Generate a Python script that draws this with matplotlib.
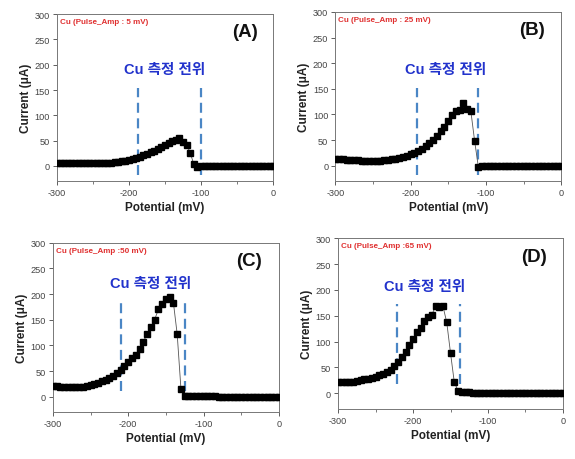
import matplotlib
matplotlib.use("Agg")
import matplotlib.pyplot as plt
from matplotlib.ticker import MultipleLocator

plt.rcParams['font.family'] = ['Liberation Sans', 'Noto Sans CJK KR', 'DejaVu Sans']
plt.rcParams['axes.unicode_minus'] = False

# potential grid (mV), 5 mV step
potential = list(range(-300, 5, 5))

# current (uA) for each pulse amplitude
cur_a = [5, 5, 5, 5, 5, 5, 5, 5, 5, 5, 5, 5, 5, 5, 6, 6, 7, 8, 9, 10,
         12, 14, 16, 18, 21, 24, 27, 30, 34, 38, 42, 46, 49, 52, 55, 48, 42, 26, 3, -3,
         -1, 0, 0, 0, 0, 0, 0, 0, 0, 0, 0, 0, 0, 0, 0, 0, 0, 0, 0, 0, 0]
cur_b = [14, 13, 13, 12, 12, 11, 11, 10, 10, 10, 10, 10, 10, 11, 12, 13, 14, 16, 18, 20,
         22, 25, 29, 33, 38, 44, 51, 58, 67, 76, 87, 98, 106, 108, 123, 111, 107, 49, -2, 0,
         0, 0, 0, 0, 0, 0, 0, 0, 0, 0, 0, 0, 0, 0, 0, 0, 0, 0, 0, 0, 0]
cur_c = [20, 20, 19, 19, 19, 18, 18, 18, 19, 20, 22, 24, 27, 30, 33, 37, 41, 47, 53, 60,
         68, 75, 82, 92, 107, 122, 135, 150, 170, 180, 190, 195, 183, 122, 15, 2, 1, 1, 1, 1,
         1, 1, 1, 1, 0, 0, 0, 0, 0, 0, 0, 0, 0, 0, 0, 0, 0, 0, 0, 0, 0]
cur_d = [22, 21, 21, 21, 22, 23, 25, 27, 28, 30, 32, 35, 38, 42, 46, 52, 60, 70, 80, 93,
         105, 118, 127, 140, 148, 152, 168, 166, 168, 137, 78, 22, 5, 3, 2, 2, 1, 1, 1, 1,
         1, 1, 1, 1, 1, 1, 1, 1, 1, 1, 1, 1, 1, 1, 1, 1, 1, 1, 1, 1, 1]

panel_tags = ["(A)", "(B)", "(C)", "(D)"]
amp_labels = ["Cu (Pulse_Amp : 5 mV)", "Cu (Pulse_Amp : 25 mV)",
              "Cu (Pulse_Amp :50 mV)", "Cu (Pulse_Amp :65 mV)"]
window_lo = [-188, -192, -210, -222]
window_hi = [-100, -110, -125, -137]
window_ymin = [-18, -18, 12, 18]
window_ymax = [155, 152, 185, 173]
note_xy = [(-150, 191), (-154, 188), (-170, 221), (-184, 208)]
currents = [cur_a, cur_b, cur_c, cur_d]

# axes rectangles in figure fraction
rects = [(0.099, 0.604, 0.376, 0.363),
         (0.583, 0.604, 0.393, 0.368),
         (0.092, 0.102, 0.393, 0.368),
         (0.588, 0.109, 0.391, 0.371)]

BLUE_DASH = "#4a86c5"
GREY = "#444444"

fig = plt.figure(figsize=(5.75, 4.6), dpi=100)
for i in range(4):
    ax = fig.add_axes(rects[i])
    ax.plot(potential, currents[i], color="#555555", lw=0.6, marker="s",
            ms=4.2, mfc="black", mec="black", zorder=3)
    for xv in (window_lo[i], window_hi[i]):
        ax.plot([xv, xv], [window_ymin[i], window_ymax[i]], color=BLUE_DASH,
                lw=1.6, dashes=(4.5, 2.5), zorder=2)
    ax.set_xlim(-300, 0)
    ax.set_ylim(-30, 300)
    ax.xaxis.set_major_locator(MultipleLocator(100))
    ax.xaxis.set_minor_locator(MultipleLocator(50))
    ax.yaxis.set_major_locator(MultipleLocator(50))
    ax.tick_params(axis="both", which="major", labelsize=6.6, colors=GREY,
                   length=3, width=0.6, direction="out", pad=2)
    ax.tick_params(axis="both", which="minor", length=2, width=0.5, colors=GREY)
    ax.tick_params(axis="y", which="minor", length=0)
    for sp in ax.spines.values():
        sp.set_color("#777777")
        sp.set_linewidth(0.7)
    ax.set_xlabel("Potential (mV)", fontsize=8.5, fontweight="bold", color="#222222", labelpad=3)
    ax.set_ylabel("Current (\u03bcA)", fontsize=8.5, fontweight="bold", color="#222222", labelpad=2)
    ax.text(0.012, 0.955, amp_labels[i], transform=ax.transAxes, fontsize=5.8,
            fontweight="bold", color="#e03030", ha="left", va="center")
    ax.text(0.87, 0.895, panel_tags[i], transform=ax.transAxes, fontsize=13.5,
            fontweight="bold", color="#111111", ha="center", va="center")
    ax.text(note_xy[i][0], note_xy[i][1], "Cu 측정 전위", fontsize=10.5,
            fontweight="bold", color="#2233cc", ha="center", va="center")

fig.savefig("out.png", dpi=100)
